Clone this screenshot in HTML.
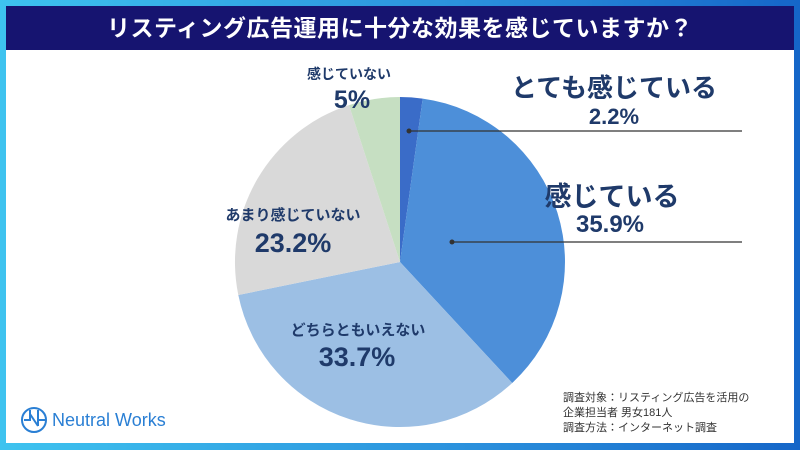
<!DOCTYPE html>
<html><head><meta charset="utf-8"><style>
body{margin:0;width:800px;height:450px;overflow:hidden;background:linear-gradient(90deg,#3ec3ef,#2a8fdc 60%,#1566c8);position:relative;font-family:"Liberation Sans","Noto Sans CJK JP",sans-serif}
.card{position:absolute;left:6px;top:6px;width:788px;height:437px;background:#fff}
.head{position:absolute;left:6px;top:6px;width:788px;height:44px;background:#161470;color:#fff;font-size:23px;font-weight:bold;text-align:center;line-height:44px;letter-spacing:0.5px}
.t{position:absolute;color:#1f3a6a;font-weight:bold;white-space:nowrap;transform:translateX(-50%)}
</style></head><body>
<div class="card"></div>
<div class="head">リスティング広告運用に十分な効果を感じていますか？</div>
<svg width="800" height="450" style="position:absolute;left:0;top:0">
<path d="M400 262 L400 97 A165 165 0 0 1 422.7 98.6Z" fill="#3a6cc8"/>
<path d="M400 262 L422.7 98.6 A165 165 0 0 1 512.2 383Z" fill="#4d8fd9"/>
<path d="M400 262 L512.2 383 A165 165 0 0 1 238.3 295Z" fill="#9cbfe4"/>
<path d="M400 262 L238.3 295 A165 165 0 0 1 349 105.1Z" fill="#d9d9d9"/>
<path d="M400 262 L349 105.1 A165 165 0 0 1 400 97Z" fill="#c6dfc2"/>
<circle cx="409" cy="131" r="2.5" fill="#333"/><line x1="409" y1="131" x2="742" y2="131" stroke="#333" stroke-width="1.2"/>
<circle cx="452" cy="242" r="2.5" fill="#333"/><line x1="452" y1="242" x2="742" y2="242" stroke="#333" stroke-width="1.2"/>
<g transform="translate(22,406)" fill="none" stroke="#2a7fd4" stroke-width="2"><circle cx="12" cy="14" r="12"/><path d="M2 14h6v-10M8 8l8 12M16 20v-16M16 14h8"/></g>
<text x="52" y="426" fill="#2a7fd4" font-size="18" font-family="Liberation Sans,sans-serif">Neutral Works</text>
</svg>
<div class="t" style="left:614px;top:68px;font-size:26px">とても感じている</div>
<div class="t" style="left:614px;top:104px;font-size:22px">2.2%</div>
<div class="t" style="left:612px;top:175px;font-size:27px">感じている</div>
<div class="t" style="left:610px;top:211px;font-size:24px">35.9%</div>
<div class="t" style="left:349px;top:64px;font-size:14px">感じていない</div>
<div class="t" style="left:352px;top:86px;font-size:25px">5%</div>
<div class="t" style="left:293px;top:204px;font-size:15px">あまり感じていない</div>
<div class="t" style="left:293px;top:228px;font-size:27px">23.2%</div>
<div class="t" style="left:358px;top:319px;font-size:15px">どちらともいえない</div>
<div class="t" style="left:357px;top:342px;font-size:27px">33.7%</div>
<div style="position:absolute;left:563px;top:391px;font-size:11px;line-height:15px;color:#333">調査対象：リスティング広告を活用の<br>企業担当者 男女181人<br>調査方法：インターネット調査</div>
</body></html>
